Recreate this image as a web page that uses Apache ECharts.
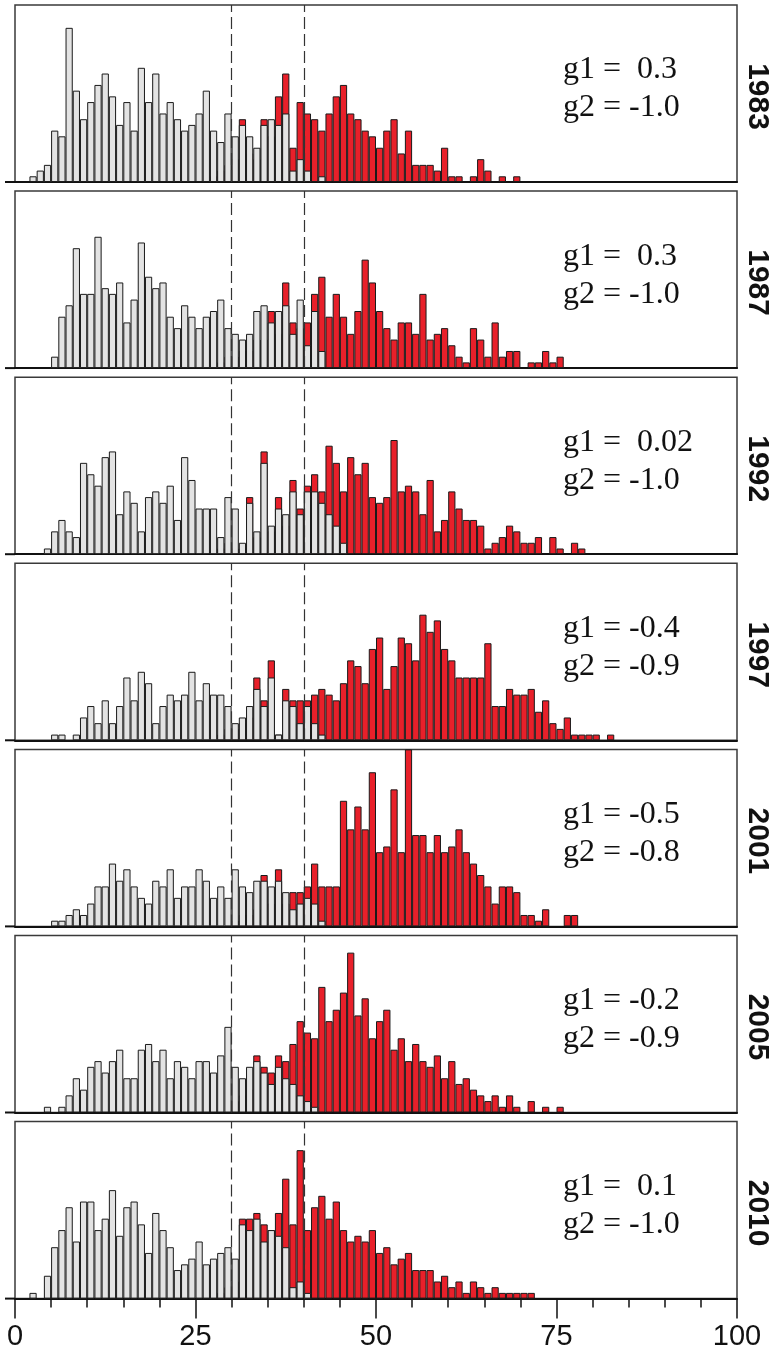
<!DOCTYPE html>
<html>
<head>
<meta charset="utf-8">
<style>
  html, body { margin: 0; padding: 0; background: #fff; }
  #chart { width: 778px; height: 1361px; }
</style>
<script src="https://cdn.jsdelivr.net/npm/echarts@6/dist/echarts.min.js"></script>
</head>
<body>
<div id="chart"></div>
<script>
// one panel per survey year
const years = ['1983', '1987', '1992', '1997', '2001', '2005', '2010'];
const g1Values = [' 0.3', ' 0.3', ' 0.02', '-0.4', '-0.5', '-0.2', ' 0.1'];
const g2Values = ['-1.0', '-1.0', '-1.0', '-0.9', '-0.8', '-0.9', '-1.0'];
const xTicks = [0, 25, 50, 75, 100];
const cutLines = [30, 40];
const binCount = 100;

// counts per 1-unit bin, index = bin start
const grey1983 = [
  0, 0, 1, 2, 3, 9, 8, 27, 16, 11,
  14, 17, 19, 15, 10, 14, 9, 20, 14, 19,
  12, 14, 11, 9, 10, 12, 16, 9, 7, 12,
  8, 10, 8, 6, 10, 11, 10, 12, 2, 4,
  2, 0, 1
];
const red1983 = [
  0, 0, 0, 0, 0, 0, 0, 0, 0, 0,
  0, 0, 0, 0, 0, 0, 0, 0, 0, 0,
  0, 0, 0, 0, 0, 0, 0, 1, 2, 3,
  4, 11, 5, 4, 11, 8, 15, 19, 6, 14,
  12, 11, 9, 12, 15, 17, 12, 11, 9, 8,
  6, 9, 11, 5, 9, 3, 3, 3, 2, 6,
  1, 1, 0, 1, 4, 2, 0, 1, 0, 1
];
const grey1987 = [
  0, 0, 0, 0, 0, 2, 9, 11, 21, 13,
  13, 23, 14, 13, 15, 8, 12, 22, 16, 14,
  15, 9, 7, 11, 9, 7, 9, 10, 12, 7,
  6, 5, 6, 10, 11, 8, 10, 11, 6, 12,
  4, 10, 3
];
const red1987 = [
  0, 0, 0, 0, 0, 0, 0, 0, 0, 0,
  0, 0, 0, 0, 0, 0, 0, 0, 0, 0,
  0, 0, 0, 0, 0, 0, 0, 0, 1, 2,
  2, 3, 3, 5, 5, 10, 6, 15, 8, 7,
  8, 13, 16, 9, 13, 9, 6, 10, 19, 15,
  10, 7, 5, 8, 8, 6, 13, 5, 6, 7,
  4, 2, 1, 7, 5, 2, 8, 2, 3, 3,
  0, 1, 1, 3, 1, 2
];
const grey1992 = [
  0, 0, 0, 0, 1, 4, 6, 4, 3, 16,
  14, 12, 17, 18, 7, 11, 9, 4, 10, 11,
  9, 12, 6, 17, 13, 8, 8, 8, 3, 10,
  8, 2, 9, 4, 16, 5, 8, 7, 11, 7,
  11, 11, 9, 7, 5, 2
];
const red1992 = [
  0, 0, 0, 0, 0, 0, 0, 0, 0, 0,
  0, 0, 0, 0, 0, 0, 0, 0, 0, 0,
  0, 0, 0, 0, 0, 0, 0, 0, 1, 2,
  1, 1, 10, 3, 18, 4, 10, 5, 13, 8,
  12, 14, 11, 19, 16, 11, 17, 14, 16, 10,
  9, 10, 20, 11, 12, 11, 7, 13, 4, 6,
  11, 8, 6, 6, 5, 1, 2, 3, 5, 4,
  2, 2, 3, 0, 3, 1, 0, 2, 1
];
const grey1997 = [
  0, 0, 0, 0, 0, 1, 1, 0, 1, 4,
  6, 3, 7, 3, 6, 11, 7, 12, 10, 3,
  6, 8, 7, 8, 12, 7, 10, 8, 8, 6,
  3, 4, 6, 9, 6, 11, 1, 7, 6, 3,
  6, 3, 1
];
const red1997 = [
  0, 0, 0, 0, 0, 0, 0, 0, 0, 0,
  0, 0, 0, 0, 0, 0, 0, 0, 0, 0,
  0, 0, 0, 0, 0, 0, 0, 0, 1, 2,
  2, 3, 4, 11, 7, 14, 1, 9, 7, 7,
  7, 8, 9, 8, 7, 10, 14, 13, 10, 16,
  18, 9, 13, 18, 17, 14, 22, 19, 21, 16,
  14, 11, 11, 11, 11, 17, 6, 6, 9, 8,
  8, 9, 5, 7, 3, 2, 4, 1, 1, 1,
  1, 0, 1
];
const grey2001 = [
  0, 0, 0, 0, 0, 1, 1, 2, 3, 2,
  4, 7, 7, 11, 8, 10, 7, 5, 4, 8,
  7, 10, 5, 7, 7, 10, 8, 5, 7, 5,
  10, 7, 6, 8, 8, 7, 8, 6, 3, 4,
  5, 4, 1
];
const red2001 = [
  0, 0, 0, 0, 0, 0, 0, 0, 0, 0,
  0, 0, 0, 0, 0, 0, 0, 0, 0, 0,
  0, 0, 0, 0, 0, 0, 0, 0, 0, 0,
  1, 2, 2, 3, 9, 4, 10, 4, 6, 6,
  7, 11, 7, 7, 7, 22, 17, 21, 17, 27,
  13, 14, 24, 13, 31, 16, 16, 13, 16, 13,
  14, 17, 13, 11, 9, 7, 4, 7, 7, 6,
  2, 2, 1, 3, 0, 0, 2, 2
];
const grey2005 = [
  0, 0, 0, 0, 1, 0, 1, 3, 6, 4,
  8, 9, 7, 9, 11, 6, 6, 11, 12, 9,
  11, 6, 9, 8, 6, 9, 9, 7, 10, 15,
  8, 6, 8, 9, 7, 5, 8, 6, 5, 3,
  2, 1
];
const red2005 = [
  0, 0, 0, 0, 0, 0, 0, 0, 0, 0,
  0, 0, 0, 0, 0, 0, 0, 0, 0, 0,
  0, 0, 0, 0, 0, 0, 0, 0, 0, 0,
  2, 3, 4, 10, 8, 7, 10, 9, 12, 16,
  14, 13, 22, 16, 18, 21, 28, 17, 20, 13,
  16, 18, 11, 13, 9, 12, 9, 8, 10, 6,
  9, 5, 6, 4, 3, 2, 3, 1, 3, 1,
  0, 2, 0, 1, 0, 1
];
const grey2010 = [
  0, 0, 1, 0, 4, 9, 12, 16, 10, 17,
  17, 12, 14, 19, 11, 16, 17, 13, 8, 15,
  12, 9, 5, 6, 7, 10, 6, 7, 8, 9,
  7, 13, 12, 14, 10, 12, 11, 9, 2, 3,
  1
];
const red2010 = [
  0, 0, 0, 0, 0, 0, 0, 0, 0, 0,
  0, 0, 0, 0, 0, 0, 0, 0, 0, 0,
  0, 0, 0, 0, 0, 0, 0, 0, 1, 2,
  3, 14, 14, 15, 13, 12, 15, 21, 13, 26,
  12, 16, 18, 14, 17, 12, 10, 11, 10, 12,
  8, 9, 6, 7, 8, 5, 5, 5, 3, 4,
  2, 3, 1, 3, 2, 1, 2, 1, 1, 1,
  1, 1
];

const greyCounts = [grey1983, grey1987, grey1992, grey1997, grey2001, grey2005, grey2010];
const redCounts = [red1983, red1987, red1992, red1997, red2001, red2005, red2010];

// layout
const LEFT = 15;
const PLOT_W = 722;
const TOP = 5;
const PANEL_H = 177;
const STEP = 186.1;
const Y_MAX = 31;

const binNames = [];
for (let i = 0; i < binCount; i++) binNames.push(String(i));

// pad to 100 bins, empty bins left out
function toBars(counts) {
  return binNames.map((_, i) => (counts[i] > 0 ? counts[i] : '-'));
}

const grids = [];
const xAxes = [];
const yAxes = [];
const series = [];
const texts = [];

years.forEach((year, k) => {
  const top = TOP + k * STEP;
  const last = k === years.length - 1;
  grids.push({
    left: LEFT, width: PLOT_W, top: top, height: PANEL_H,
    show: true, borderColor: '#3a3a3a', borderWidth: 1.5
  });
  // bins (hidden) and the visible 0-100 scale share the grid
  xAxes.push({
    type: 'category', gridIndex: k, position: 'bottom',
    data: binNames, boundaryGap: true, show: false
  });
  xAxes.push({
    type: 'value', gridIndex: k, position: 'bottom', min: 0, max: 100,
    interval: last ? 25 : undefined,
    axisLine: { show: true, onZero: false, lineStyle: { color: '#111', width: 2 } },
    axisTick: { show: last, length: 20, lineStyle: { color: '#111', width: 1.5 } },
    minorTick: { show: last, splitNumber: 5, length: 9, lineStyle: { color: '#111', width: 1.5 } },
    axisLabel: {
      show: last, margin: 24, fontSize: 29, color: '#111',
      fontFamily: 'Liberation Sans',
      customValues: xTicks
    },
    splitLine: { show: false }
  });
  yAxes.push({ type: 'value', gridIndex: k, min: 0, max: Y_MAX, show: false });

  series.push({
    type: 'bar', xAxisIndex: 2 * k, yAxisIndex: k,
    data: toBars(redCounts[k]),
    barWidth: '100%', barGap: '-100%', barCategoryGap: '0%',
    itemStyle: { color: '#e8202a', borderColor: '#1a1a1a', borderWidth: 1 }
  });
  series.push({
    type: 'bar', xAxisIndex: 2 * k, yAxisIndex: k,
    data: toBars(greyCounts[k]),
    barWidth: '100%', barGap: '-100%', barCategoryGap: '0%',
    itemStyle: { color: '#e3e3e3', borderColor: '#1a1a1a', borderWidth: 1 }
  });
  // dashed cut lines at 30 and 40
  series.push({
    type: 'line', xAxisIndex: 2 * k + 1, yAxisIndex: k, data: [],
    markLine: {
      silent: true, symbol: ['none', 'none'],
      label: { show: false },
      lineStyle: { color: '#333', width: 1.2, type: [12, 5] },
      data: cutLines.map(v => ({ xAxis: v }))
    }
  });

  // g1 / g2 statistics
  texts.push({
    type: 'text', x: 563, y: top + 65,
    style: {
      text: 'g1 = ' + g1Values[k], font: '32px "Liberation Serif"', fill: '#111',
      align: 'left', verticalAlign: 'middle'
    }
  });
  texts.push({
    type: 'text', x: 563, y: top + 103,
    style: {
      text: 'g2 = ' + g2Values[k], font: '32px "Liberation Serif"', fill: '#111',
      align: 'left', verticalAlign: 'middle'
    }
  });
  // year label, reading top to bottom
  texts.push({
    type: 'text', x: 757, y: top + PANEL_H / 2 + 3, rotation: -Math.PI / 2,
    style: {
      text: year, font: 'bold 30px "Liberation Sans"', fill: '#111',
      align: 'center', verticalAlign: 'middle'
    }
  });
  // axis line runs a little past the left frame edge
  texts.push({
    type: 'line', shape: { x1: 5, y1: top + PANEL_H, x2: LEFT, y2: top + PANEL_H },
    style: { stroke: '#111', lineWidth: 2 }
  });
});

const chart = echarts.init(document.getElementById('chart'));
chart.setOption({
  animation: false,
  grid: grids,
  xAxis: xAxes,
  yAxis: yAxes,
  series: series,
  graphic: { elements: texts }
});
</script>
</body>
</html>
